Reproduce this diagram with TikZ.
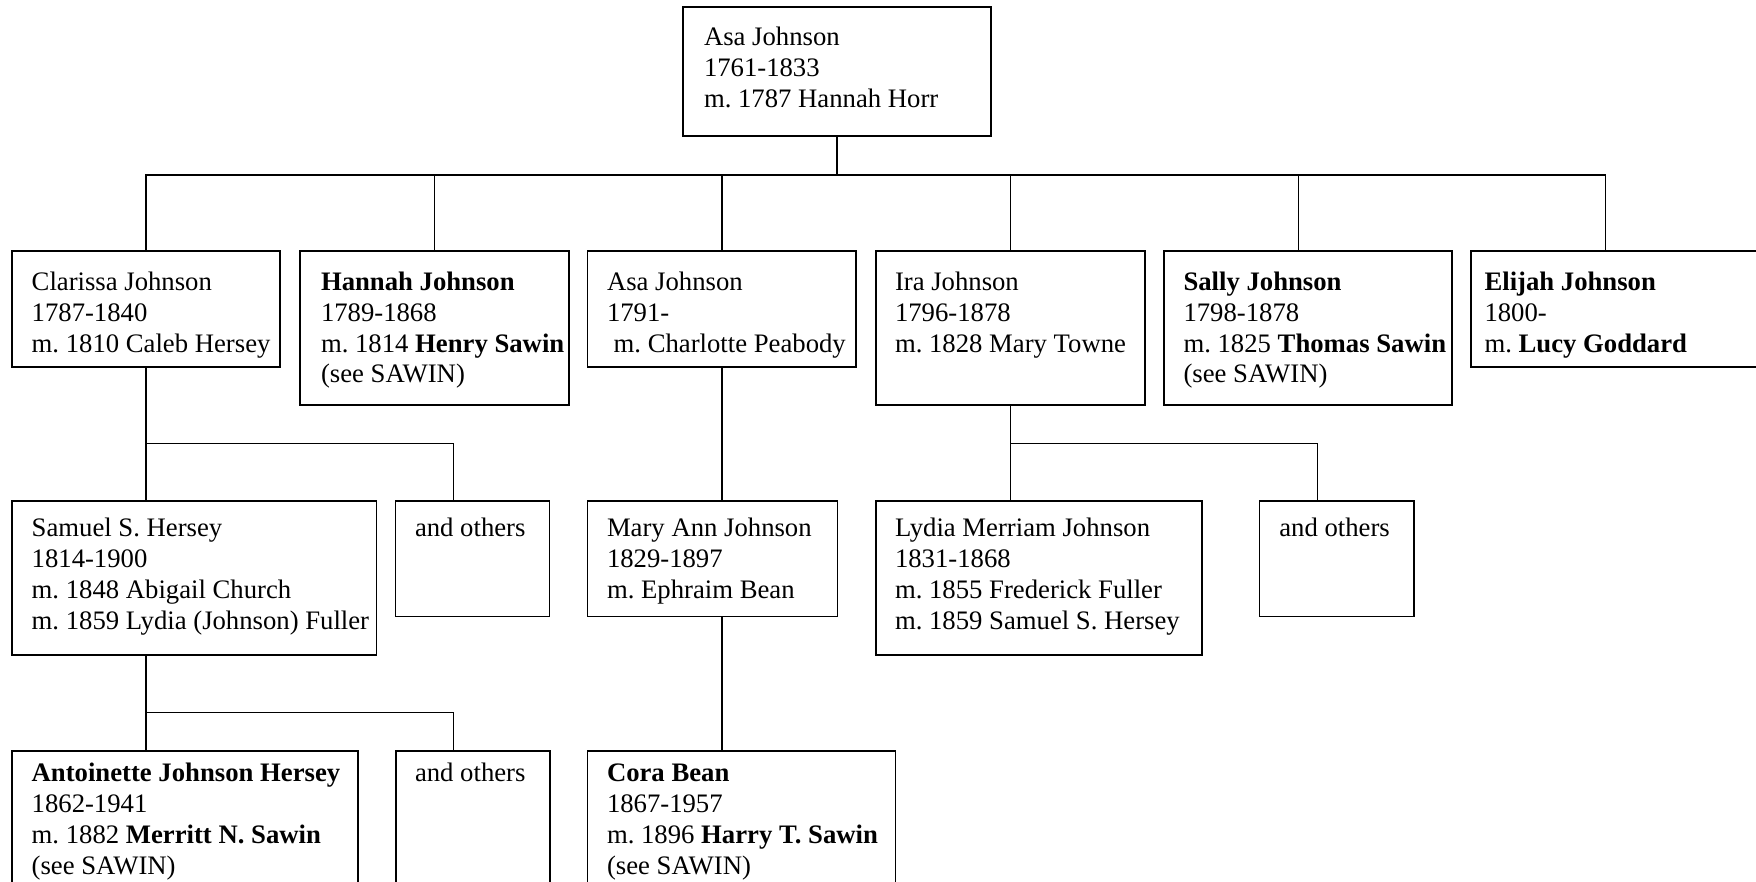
\documentclass[tikz,border=0pt]{standalone}
\usepackage{fontspec}
\setmainfont{Liberation Serif}
\frenchspacing
\newcommand\famfont{\fontsize{26.7}{30.8}\selectfont\frenchspacing}
\newcommand\famlines[1]{\vtop{\baselineskip=30.8pt\lineskiplimit=0pt\halign{##\hfil\cr#1\crcr}}}
\newcommand\fambox[5]{\node[pbox,minimum width={(#4-#2)*1pt},minimum height={(#5-#3)*1pt}] (#1) at (#2,#3) {};}
\tikzset{
  pbox/.style={draw=black,line width=1.8pt,inner sep=0pt,outer sep=0pt,anchor=north west},
  ptext/.style={anchor=base west,inner sep=0pt,outer sep=0pt,font=\famfont},
  link/.style={draw=black,line width=1.6pt}
}
\begin{document}
\begin{tikzpicture}[x=1pt,y=-1pt]
\useasboundingbox (0,0) rectangle (1756,881);
\clip (0,0) rectangle (1756,881);
\fill[white] (0,0) rectangle (1756,881);

% boxes
\fambox{top}{683.3}{7.3}{991}{136}
\fambox{clar}{11.7}{251}{280}{366.7}
\fambox{hannah}{300}{251}{569}{405}
\fambox{asa}{587.5}{251}{856}{366.7}
\fambox{ira}{876}{251}{1145}{405}
\fambox{sally}{1164}{251}{1452}{405}
\fambox{elijah}{1471}{251}{1775}{366.7}
\fambox{sam}{11.7}{501}{376.5}{655}
\fambox{othA}{395.5}{501}{549.5}{616.5}
\fambox{mary}{587.5}{501}{837.5}{616.5}
\fambox{lydia}{876}{501}{1202.3}{655}
\fambox{othB}{1259.5}{501}{1413.7}{616.5}
\fambox{ant}{11.7}{750.7}{357.7}{900}
\fambox{othC}{395.7}{750.7}{550}{900}
\fambox{cora}{587.5}{750.7}{895.5}{900}

% texts
\node[ptext] (tTop) at (704,45.7) {\famlines{Asa Johnson\cr 1761-1833\cr m. 1787 Hannah Horr}};
\node[ptext] (tClar) at (31.7,290.5) {\famlines{Clarissa Johnson\cr 1787-1840\cr m. 1810 Caleb Hersey}};
\node[ptext] (tHannah) at (321,290.5) {\famlines{\textbf{Hannah Johnson}\cr 1789-1868\cr m. 1814 \textbf{Henry Sawin}\cr (see SAWIN)}};
\node[ptext] (tAsa) at (607,290.5) {\famlines{Asa Johnson\cr 1791-\cr \ m. Charlotte Peabody}};
\node[ptext] (tIra) at (895,290.5) {\famlines{Ira Johnson\cr 1796-1878\cr m. 1828 Mary Towne}};
\node[ptext] (tSally) at (1183.5,290.5) {\famlines{\textbf{Sally Johnson}\cr 1798-1878\cr m. 1825 \textbf{Thomas Sawin}\cr (see SAWIN)}};
\node[ptext] (tElijah) at (1484.5,290.5) {\famlines{\textbf{Elijah Johnson}\cr 1800-\cr m. \textbf{Lucy Goddard}}};
\node[ptext] (tSam) at (31.7,536.7) {\famlines{Samuel S. Hersey\cr 1814-1900\cr m. 1848 Abigail Church\cr m. 1859 Lydia (Johnson) Fuller}};
\node[ptext] (tOthA) at (415,536.7) {\famlines{and others}};
\node[ptext] (tMary) at (607,536.7) {\famlines{Mary Ann Johnson\cr 1829-1897\cr m. Ephraim Bean}};
\node[ptext] (tLydia) at (895,536.7) {\famlines{Lydia Merriam Johnson\cr 1831-1868\cr m. 1855 Frederick Fuller\cr m. 1859 Samuel S. Hersey}};
\node[ptext] (tOthB) at (1279.3,536.7) {\famlines{and others}};
\node[ptext] (tAnt) at (31.7,781.7) {\famlines{\textbf{Antoinette Johnson Hersey}\cr 1862-1941\cr m. 1882 \textbf{Merritt N. Sawin}\cr (see SAWIN)}};
\node[ptext] (tOthC) at (415,781.7) {\famlines{and others}};
\node[ptext] (tCora) at (607,781.7) {\famlines{\textbf{Cora Bean}\cr 1867-1957\cr m. 1896 \textbf{Harry T. Sawin}\cr (see SAWIN)}};

% bus levels and off-centre entry points
\coordinate (busA) at (0,174.7);
\coordinate (busB) at (0,443.3);
\coordinate (busC) at (0,712.5);
\coordinate (sallyIn) at (1298.4,251);
\coordinate (elijahIn) at (1605.3,251);
\coordinate (othAIn) at (453.6,501);
\coordinate (othBIn) at (1317.3,501);
\coordinate (othCIn) at (453.6,750.7);

% generation 1 -> 2
\draw[link] (top.south) |- (clar.north |- busA) -- (clar.north);
\draw[link] (top.south) |- (hannah.north |- busA) -- (hannah.north);
\draw[link] (top.south) |- (asa.north |- busA) -- (asa.north);
\draw[link] (top.south) |- (ira.north |- busA) -- (ira.north);
\draw[link] (top.south) |- (sallyIn |- busA) -- (sallyIn);
\draw[link] (top.south) |- (elijahIn |- busA) -- (elijahIn);

% generation 2 -> 3
\draw[link] (clar.south) -- (clar.south |- sam.north);
\draw[link] (clar.south) |- (othAIn |- busB) -- (othAIn);
\draw[link] (asa.south) -- (asa.south |- mary.north);
\draw[link] (ira.south) -- (ira.south |- lydia.north);
\draw[link] (ira.south) |- (othBIn |- busB) -- (othBIn);

% generation 3 -> 4
\draw[link] (clar.south |- sam.south) -- (clar.south |- ant.north);
\draw[link] (clar.south |- sam.south) |- (othCIn |- busC) -- (othCIn);
\draw[link] (asa.south |- mary.south) -- (asa.south |- cora.north);
\end{tikzpicture}
\end{document}
